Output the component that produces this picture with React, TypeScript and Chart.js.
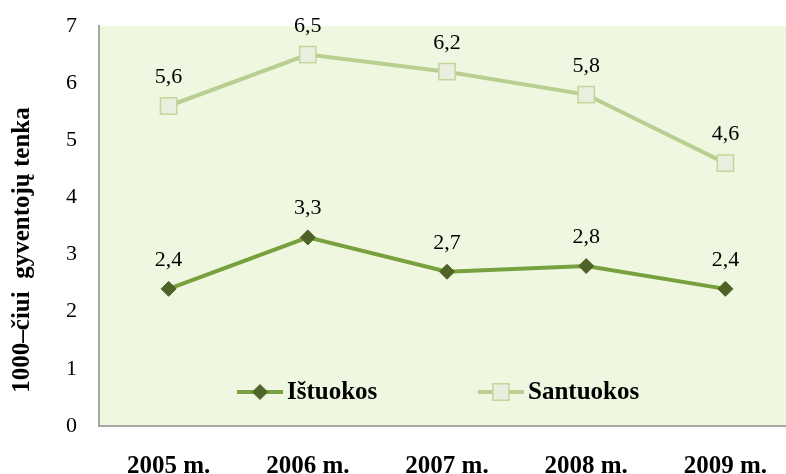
import React, { useEffect, useRef } from "react";
import { Chart, registerables } from "chart.js";

Chart.register(...registerables);

const categories = ["2005 m.", "2006 m.", "2007 m.", "2008 m.", "2009 m."];
const istuokos = [2.4, 3.3, 2.7, 2.8, 2.4];
const santuokos = [5.6, 6.5, 6.2, 5.8, 4.6];
const seriesNames = ["Ištuokos", "Santuokos"];
const yTitle = "1000–čiui  gyventojų tenka";

const SERIF = "'Liberation Serif', 'Times New Roman', serif";

const bgPlugin = {
  id: "plotBg",
  beforeDraw(chart: any) {
    const { ctx, chartArea } = chart;
    ctx.save();
    ctx.fillStyle = "#eff7e1";
    ctx.fillRect(chartArea.left, chartArea.top, chartArea.right - chartArea.left, chartArea.bottom - chartArea.top);
    ctx.restore();
  },
};

const labelsPlugin = {
  id: "valueLabels",
  afterDatasetsDraw(chart: any) {
    const { ctx } = chart;
    ctx.save();
    ctx.font = `22px ${SERIF}`;
    ctx.fillStyle = "#000";
    ctx.textAlign = "center";
    ctx.textBaseline = "alphabetic";
    chart.data.datasets.forEach((ds: any, di: number) => {
      const meta = chart.getDatasetMeta(di);
      meta.data.forEach((pt: any, i: number) => {
        const txt = String(ds.data[i]).replace(".", ",");
        ctx.fillText(txt, pt.x, pt.y - 23);
      });
    });
    ctx.restore();
  },
};

const legendPlugin = {
  id: "innerLegend",
  afterDatasetsDraw(chart: any) {
    const { ctx, chartArea } = chart;
    const y = chartArea.bottom - 34;
    const starts = [237, 478];
    ctx.save();
    chart.data.datasets.forEach((ds: any, di: number) => {
      const x0 = starts[di];
      const x1 = x0 + 46;
      ctx.strokeStyle = ds.borderColor;
      ctx.lineWidth = 4;
      ctx.beginPath();
      ctx.moveTo(x0, y);
      ctx.lineTo(x1, y);
      ctx.stroke();
      const cx = (x0 + x1) / 2;
      ctx.fillStyle = ds.pointBackgroundColor;
      ctx.strokeStyle = ds.pointBorderColor;
      ctx.lineWidth = ds.pointBorderWidth;
      ctx.beginPath();
      if (ds.pointStyle === "rectRot") {
        const r = ds.pointRadius;
        ctx.moveTo(cx, y - r);
        ctx.lineTo(cx + r, y);
        ctx.lineTo(cx, y + r);
        ctx.lineTo(cx - r, y);
        ctx.closePath();
        ctx.fill();
        ctx.stroke();
      } else {
        const s = ds.pointRadius * Math.SQRT1_2;
        ctx.rect(cx - s, y - s, 2 * s, 2 * s);
        ctx.fill();
        ctx.stroke();
      }
      ctx.font = `bold 25px ${SERIF}`;
      ctx.fillStyle = "#000";
      ctx.textAlign = "left";
      ctx.textBaseline = "middle";
      ctx.fillText(ds.label, x1 + 4, y + 1);
    });
    ctx.restore();
  },
};

const yTitlePlugin = {
  id: "yTitle",
  afterDraw(chart: any) {
    const { ctx } = chart;
    ctx.save();
    ctx.translate(23, 250);
    ctx.rotate(-Math.PI / 2);
    ctx.font = `bold 25px ${SERIF}`;
    ctx.fillStyle = "#000";
    ctx.textAlign = "center";
    ctx.textBaseline = "middle";
    ctx.fillText(yTitle, 0, 0);
    ctx.restore();
  },
};

export default function App() {
  const ref = useRef<HTMLCanvasElement | null>(null);
  useEffect(() => {
    if (!ref.current) return;
    const chart = new Chart(ref.current, {
      type: "line",
      data: {
        labels: categories,
        datasets: [
          {
            label: seriesNames[0],
            data: istuokos,
            borderColor: "#77a13c",
            borderWidth: 4,
            pointStyle: "rectRot",
            pointRadius: 7.5,
            pointBackgroundColor: "#4f6228",
            pointBorderColor: "#4f6228",
            pointBorderWidth: 1,
            tension: 0,
          } as any,
          {
            label: seriesNames[1],
            data: santuokos,
            borderColor: "#b8cf91",
            borderWidth: 4,
            pointStyle: "rect",
            pointRadius: 11.5,
            pointBackgroundColor: "#eaeedf",
            pointBorderColor: "#c3d69b",
            pointBorderWidth: 1.5,
            tension: 0,
          } as any,
        ],
      },
      options: {
        responsive: false,
        animation: false,
        layout: { padding: { top: 26, right: 0, left: 0, bottom: 0 } },
        plugins: { legend: { display: false }, tooltip: { enabled: false } },
        scales: {
          x: {
            offset: true,
            grid: { color: "transparent", drawTicks: false },
            border: { display: true, color: "#a6a6a6", width: 2 },
            ticks: { color: "#000", font: { family: SERIF, size: 25, weight: "bold" }, padding: 26, maxRotation: 0, autoSkip: false },
            afterFit(scale: any) {
              scale.height = 64;
              scale.paddingLeft = 0;
              scale.paddingRight = 0;
            },
          },
          y: {
            min: 0,
            max: 7,
            grid: { color: "transparent", drawTicks: false },
            border: { display: true, color: "#a6a6a6", width: 2 },
            ticks: { stepSize: 1, color: "#000", font: { family: SERIF, size: 22 }, padding: 22 },
            afterFit(scale: any) {
              scale.width = 99;
              scale.paddingTop = 0;
              scale.paddingBottom = 0;
            },
          },
        },
      },
      plugins: [bgPlugin, labelsPlugin, legendPlugin, yTitlePlugin],
    });
    return () => chart.destroy();
  }, []);

  return (
    <div style={{ position: "fixed", left: 0, top: 0, width: 786, height: 474, overflow: "hidden", background: "#fff" }}>
      <canvas ref={ref} width={808} height={490} style={{ display: "block" }} />
    </div>
  );
}
